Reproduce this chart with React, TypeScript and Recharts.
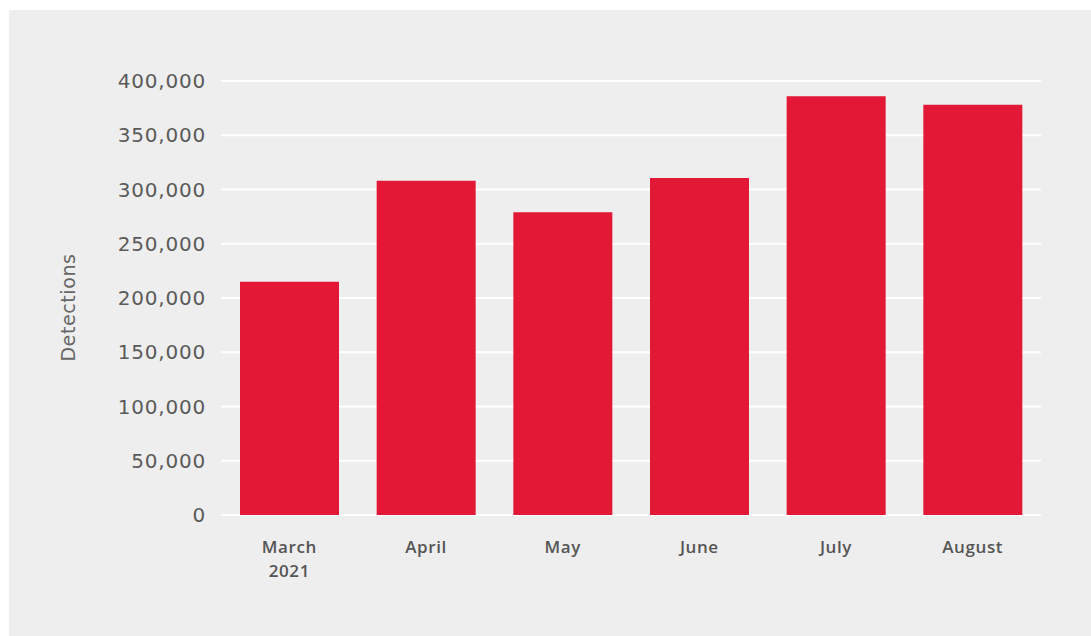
import React from "react";
import { BarChart, Bar, XAxis, YAxis, CartesianGrid } from "recharts";

const categories: string[] = ["March\n2021", "April", "May", "June", "July", "August"];
const detections: number[] = [215000, 308000, 279000, 310500, 386000, 378000];
const yTicks: number[] = [0, 50000, 100000, 150000, 200000, 250000, 300000, 350000, 400000];

const data = categories.map((c, i) => ({ month: c, detections: detections[i] }));

const XTick = (props: any) => {
  const { x, y, payload } = props;
  const lines = String(payload.value).split("\n");
  return (
    <text
      x={x}
      y={y}
      textAnchor="middle"
      fill="#555555"
      fontFamily="Open Sans"
      fontSize={17}
      fontWeight={600}
      letterSpacing={0.6}
    >
      {lines.map((l, i) => (
        <tspan key={i} x={x} dy={i === 0 ? 38 : 23.5}>
          {l}
        </tspan>
      ))}
    </text>
  );
};

const YLabel = () => (
  <text
    x={59}
    y={297.5}
    transform="rotate(-90, 59, 297.5)"
    textAnchor="middle"
    dominantBaseline="central"
    fill="#666666"
    fontFamily="DejaVu Sans"
    fontSize={19}
    letterSpacing={0.6}
  >
    Detections
  </text>
);

export default function App() {
  return (
    <div
      style={{
        position: "absolute",
        left: 9,
        top: 10,
        width: 1082,
        height: 626,
        background: "#eeeeee",
      }}
    >
      <BarChart
        width={1082}
        height={626}
        data={data}
        margin={{ top: 71, right: 50, bottom: 61, left: 72 }}
      >
        <CartesianGrid horizontal vertical={false} stroke="#ffffff" strokeWidth={2} />
        <XAxis
          dataKey="month"
          axisLine={false}
          tickLine={false}
          tickSize={0}
          tickMargin={0}
          height={60}
          interval={0}
          tick={<XTick />}
        />
        <YAxis
          width={140}
          domain={[0, 400000]}
          ticks={yTicks}
          axisLine={false}
          tickLine={false}
          tickSize={0}
          tickMargin={15}
          interval={0}
          tickFormatter={(v: number) => v.toLocaleString("en-US")}
          tick={{ fill: "#5a5a5a", fontFamily: "DejaVu Sans", fontSize: 20, letterSpacing: 0.8 }}
          label={<YLabel />}
        />
        <Bar dataKey="detections" fill="#e31837" barSize={99} isAnimationActive={false} />
      </BarChart>
    </div>
  );
}
